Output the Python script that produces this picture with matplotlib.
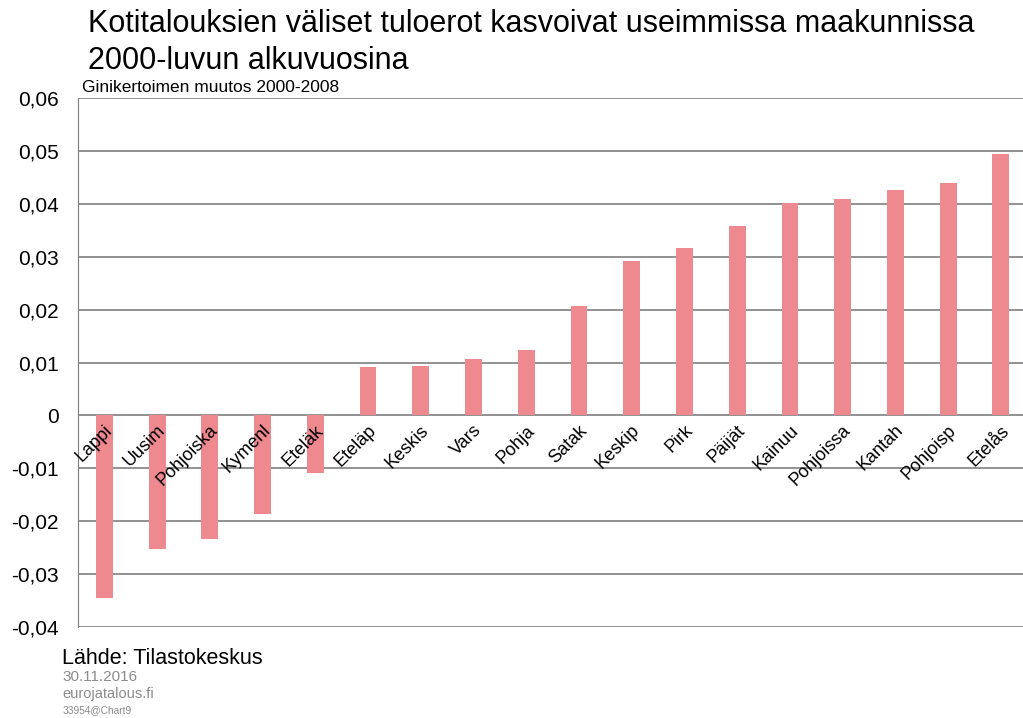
import matplotlib.pyplot as plt
from matplotlib.ticker import FixedLocator, FuncFormatter

plt.rcParams['font.family'] = ['Liberation Sans', 'DejaVu Sans']

regions = ['Lappi', 'Uusim', 'Pohjoiska', 'Kymenl', 'Eteläk', 'Eteläp', 'Keskis',
           'Vars', 'Pohja', 'Satak', 'Keskip', 'Pirk', 'Päijät', 'Kainuu',
           'Pohjoissa', 'Kantah', 'Pohjoisp', 'Etelås']
gini_change = [-0.0345, -0.0253, -0.0233, -0.0186, -0.0109, 0.0091, 0.0094,
               0.0107, 0.0123, 0.0207, 0.0292, 0.0317, 0.0359, 0.0402,
               0.0410, 0.0426, 0.0439, 0.0495]
y_ticks = [-0.04, -0.03, -0.02, -0.01, 0, 0.01, 0.02, 0.03, 0.04, 0.05, 0.06]

fig = plt.figure(figsize=(10.23, 7.18), dpi=100)
ax = fig.add_axes([0.0762, 0.1267, 0.928, 0.7368])

x = range(len(regions))
ax.bar(x, gini_change, width=0.32, color='#EF8990', zorder=3)

ax.set_xlim(-0.5, len(regions) - 0.5)
ax.set_ylim(-0.04, 0.06)
ax.yaxis.set_major_locator(FixedLocator(y_ticks))
ax.yaxis.set_major_formatter(FuncFormatter(
    lambda v, p: '0' if abs(v) < 1e-9 else f'{v:.2f}'.replace('.', ',')))
ax.tick_params(axis='y', length=0, pad=14, labelsize=15)
ax.set_xticks([])
ax.grid(axis='y', color='#7f7f7f', linewidth=1.2, zorder=1)
for s in ['right', 'bottom', 'top']:
    ax.spines[s].set_visible(False)
ax.spines['left'].set_color('#7f7f7f')
ax.spines['left'].set_zorder(4)

# category labels hang off the zero line
for i, name in enumerate(regions):
    ax.annotate(name, xy=(i, 0), xytext=(4, -9), textcoords='offset points',
                rotation=45, rotation_mode='anchor', ha='right', va='center',
                fontsize=13, zorder=5)

fig.text(0.086, 0.987, 'Kotitalouksien väliset tuloerot kasvoivat useimmissa maakunnissa\n'
         '2000-luvun alkuvuosina', ha='left', va='top', fontsize=22,
         linespacing=1.27)
fig.text(0.080, 0.868, 'Ginikertoimen muutos 2000-2008', ha='left', va='bottom',
         fontsize=12.5)

fig.text(0.061, 0.068, 'Lähde: Tilastokeskus', ha='left', va='bottom', fontsize=15.5)
fig.text(0.061, 0.047, '30.11.2016', ha='left', va='bottom', fontsize=11, color='#8c8c8c')
fig.text(0.061, 0.023, 'eurojatalous.fi', ha='left', va='bottom', fontsize=10.5, color='#8c8c8c')
fig.text(0.061, 0.004, '33954@Chart9', ha='left', va='bottom', fontsize=7.3, color='#8c8c8c')

fig.savefig('out.png', dpi=100)
